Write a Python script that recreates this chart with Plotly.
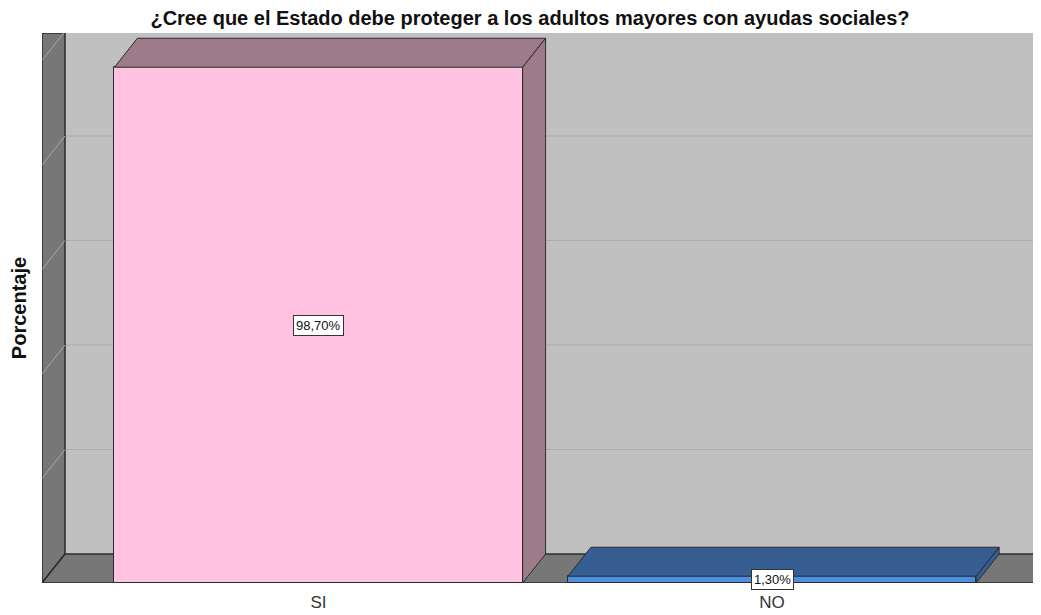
"""
plot.py - SPSS style 3D bar chart: social aid for older adults (SI / NO)
"""

import plotly.graph_objects as go

# ---------------------------------------------------------------------------
# DATA
# ---------------------------------------------------------------------------
TITLE = "¿Cree que el Estado debe proteger a los adultos mayores con ayudas sociales?"
Y_TITLE = "Porcentaje"
CATEGORIES = ["SI", "NO"]
PERCENTS = [98.70, 1.30]
VALUE_LABELS = ["98,70%", "1,30%"]
GRID_VALUES = [20, 40, 60, 80, 100]

# ---------------------------------------------------------------------------
# LOOK
# ---------------------------------------------------------------------------
PAGE_W = 1041
PAGE_H = 615
PAGE_PAD = 8  # body margin of the html page around the figure div
WIDTH = PAGE_W - PAGE_PAD
HEIGHT = PAGE_H - PAGE_PAD
FONT = "Liberation Sans, Arial, sans-serif"

FRONT_COLORS = ["#FFC2E1", "#4A8FE0"]
SHADE_COLORS = ["#9E7B8B", "#365E92"]
EDGE = "#2b2b2b"
WALL_BACK = "#C0C0C0"
WALL_SIDE = "#777777"
GRID_BACK = "#ABABAB"
GRID_SIDE = "#A8A8A8"

BAR_WIDTH = 0.9
# depth offset of the 3D box, in axis units
DEPTH_X = 0.0507
DEPTH_Y = 5.55
X_RANGE = [-0.6097, 1.593]
Y_RANGE = [0, 105.26]


def box_faces(i, value):
    """Top and right side faces of bar i, built from its category and value."""
    x0 = i - BAR_WIDTH / 2
    x1 = i + BAR_WIDTH / 2
    top = ([x0, x0 + DEPTH_X, x1 + DEPTH_X, x1, x0],
           [value, value + DEPTH_Y, value + DEPTH_Y, value, value])
    side = ([x1, x1 + DEPTH_X, x1 + DEPTH_X, x1, x1],
            [0, DEPTH_Y, value + DEPTH_Y, value, 0])
    return top, side


def wall_shapes():
    xa, xb = X_RANGE
    ya, yb = Y_RANGE
    shapes = [
        # back wall
        dict(type="rect", x0=xa + DEPTH_X, x1=xb + 0.05, y0=DEPTH_Y, y1=yb,
             fillcolor=WALL_BACK, line=dict(width=0), layer="below"),
    ]
    for g in GRID_VALUES:
        shapes.append(dict(type="line", x0=xa + DEPTH_X, x1=xb, y0=g + DEPTH_Y, y1=g + DEPTH_Y,
                           line=dict(color=GRID_BACK, width=1), layer="below"))
    # left wall
    shapes.append(dict(
        type="path",
        path=f"M {xa},{ya} L {xa + DEPTH_X},{DEPTH_Y} L {xa + DEPTH_X},{yb} L {xa},{yb} Z",
        fillcolor=WALL_SIDE, line=dict(color=EDGE, width=1.5), layer="below"))
    for g in GRID_VALUES:
        shapes.append(dict(type="line", x0=xa, x1=xa + DEPTH_X, y0=g, y1=g + DEPTH_Y,
                           line=dict(color=GRID_SIDE, width=1), layer="below"))
    # floor
    shapes.append(dict(
        type="path",
        path=f"M {xa},{ya} L {xa + DEPTH_X},{DEPTH_Y} L {xb + 0.05},{DEPTH_Y} L {xb + 0.05},{ya} Z",
        fillcolor=WALL_SIDE, line=dict(color=EDGE, width=1.5), layer="below"))
    return shapes


def main():
    fig = go.Figure()

    # front faces
    fig.add_trace(go.Bar(
        x=list(range(len(CATEGORIES))),
        y=PERCENTS,
        width=BAR_WIDTH,
        marker=dict(color=FRONT_COLORS, line=dict(color=EDGE, width=1)),
        hoverinfo="skip",
        showlegend=False,
    ))

    # top and side faces
    for i, v in enumerate(PERCENTS):
        for xs, ys in box_faces(i, v):
            fig.add_trace(go.Scatter(
                x=xs, y=ys, mode="lines", fill="toself",
                fillcolor=SHADE_COLORS[i], line=dict(color=EDGE, width=1),
                hoverinfo="skip", showlegend=False,
            ))

    # value labels in the middle of each front face
    for i, (v, lab) in enumerate(zip(PERCENTS, VALUE_LABELS)):
        fig.add_annotation(
            x=i, y=v / 2, text=lab, showarrow=False,
            font=dict(family=FONT, size=13, color="#111111"),
            bgcolor="white", bordercolor="#333333", borderwidth=1, borderpad=2,
        )

    # positions are page pixels of the reference minus the html body margin
    fig.update_layout(
        width=WIDTH,
        height=HEIGHT,
        margin=dict(l=42 - PAGE_PAD, r=0, t=33 - PAGE_PAD, b=HEIGHT - (583 - PAGE_PAD)),
        paper_bgcolor="white",
        plot_bgcolor="white",
        font=dict(family=FONT),
        title=dict(
            text=f"<b>{TITLE}</b>",
            x=(530 - PAGE_PAD) / WIDTH, xanchor="center",
            y=1 - (18 - PAGE_PAD) / HEIGHT, yanchor="middle",
            font=dict(family=FONT, size=20, color="#111111"),
        ),
        xaxis=dict(
            range=X_RANGE, tickvals=list(range(len(CATEGORIES))), ticktext=CATEGORIES,
            showgrid=False, zeroline=False, showline=False, ticks="",
            tickfont=dict(family=FONT, size=17, color="#333333"),
            ticklabelstandoff=7, automargin=False, fixedrange=True,
        ),
        yaxis=dict(
            range=Y_RANGE, showticklabels=False, showgrid=False, zeroline=False,
            showline=False, ticks="", automargin=False, fixedrange=True,
            title=dict(text=f"<b>{Y_TITLE}</b>", standoff=12,
                       font=dict(family=FONT, size=20, color="#111111")),
        ),
        shapes=wall_shapes(),
        bargap=0,
    )

    fig.write_html("out.html")


if __name__ == "__main__":
    main()
